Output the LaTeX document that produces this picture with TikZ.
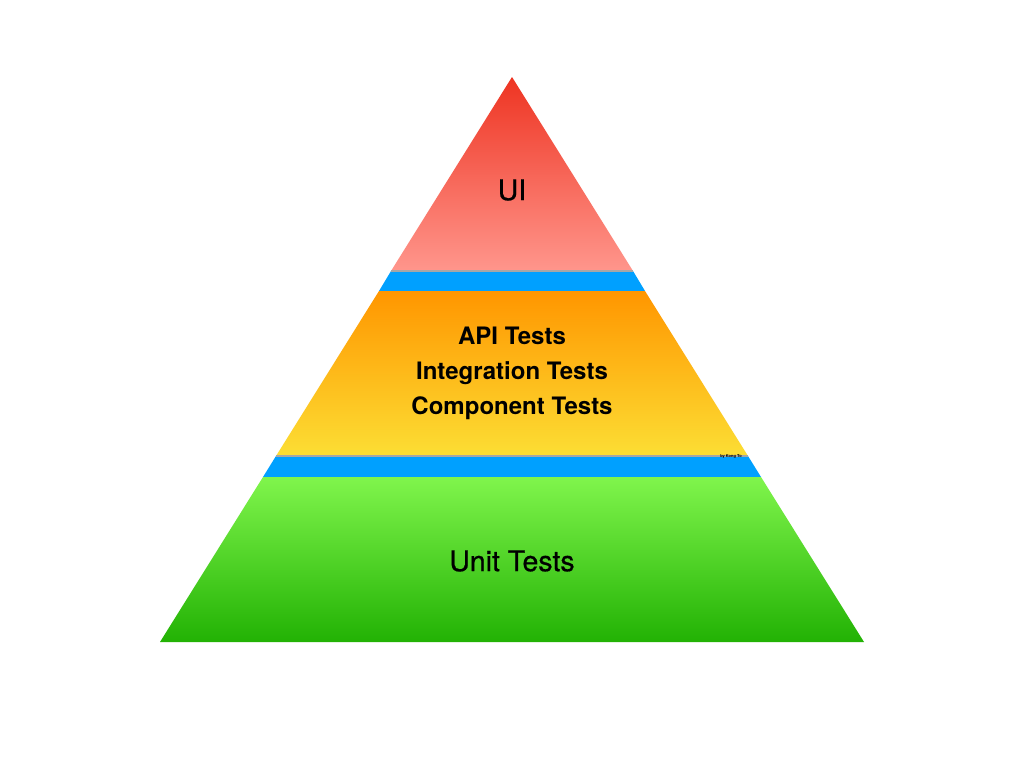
\documentclass[tikz,border=0pt]{standalone}
\usepackage{fontspec}
\setmainfont{TeX Gyre Heros}
\newfontfamily\medfont[FakeBold=0.7]{TeX Gyre Heros}
\usepackage{tikz}
\definecolor{uitop}{RGB}{238,52,34}
\definecolor{uibot}{RGB}{255,150,140}
\definecolor{midtop}{RGB}{255,150,0}
\definecolor{midbot}{RGB}{252,222,52}
\definecolor{band}{RGB}{0,160,255}
\definecolor{unittop}{RGB}{128,245,76}
\definecolor{unitbot}{RGB}{34,178,4}
\tikzset{
    layer/.style={draw=none},
    label/.style={font=\medfont\fontsize{28.5}{32}\selectfont, text=black},
    boldlabel/.style={font=\bfseries\fontsize{24}{35}\selectfont, align=center, text=black}
}

\begin{document}
\begin{tikzpicture}[x=1pt, y=-1pt]
    \useasboundingbox[fill=white] (0, 0) rectangle (1024, 768);
    \coordinate (A) at (512, 77);
    \coordinate (l1) at (391, 271);   \coordinate (r1) at (633, 271);
    \coordinate (l2) at (379, 291);   \coordinate (r2) at (645, 291);
    \coordinate (l3) at (276, 456);   \coordinate (r3) at (748, 456);
    \coordinate (l4) at (263, 477);   \coordinate (r4) at (761, 477);
    \coordinate (bl) at (160, 642);   \coordinate (br) at (864, 642);
    % bands
    \fill[band] (l1)--(r1)--(r2)--(l2)--cycle;
    \fill[band] (l3)--(r3)--(r4)--(l4)--cycle;
    % layers
    \shade[layer, top color=unittop, bottom color=unitbot] (l4)--(r4)--(br)--(bl)--cycle;
    \shade[layer, top color=midtop, bottom color=midbot] (l2)--(r2)--(r3)--(l3)--cycle;
    \shade[layer, top color=uitop, bottom color=uibot] (A)--(r1)--(l1)--cycle;
    \draw[black!35, line width=1.2] (l1)--(r1);
    \draw[black!35, line width=1.2] (l3)--(r3);
    % texts
    \node[label] (ui) at (512, 190) {UI};
    \node[boldlabel] (mid) at (512, 373) {API Tests\\Integration Tests\\Component Tests};
    \node[label] (unit) at (512, 561) {Unit Tests};
    \node[font=\bfseries\fontsize{4}{4}\selectfont] (by) at (731, 456) {by Kong To};
\end{tikzpicture}
\end{document}
